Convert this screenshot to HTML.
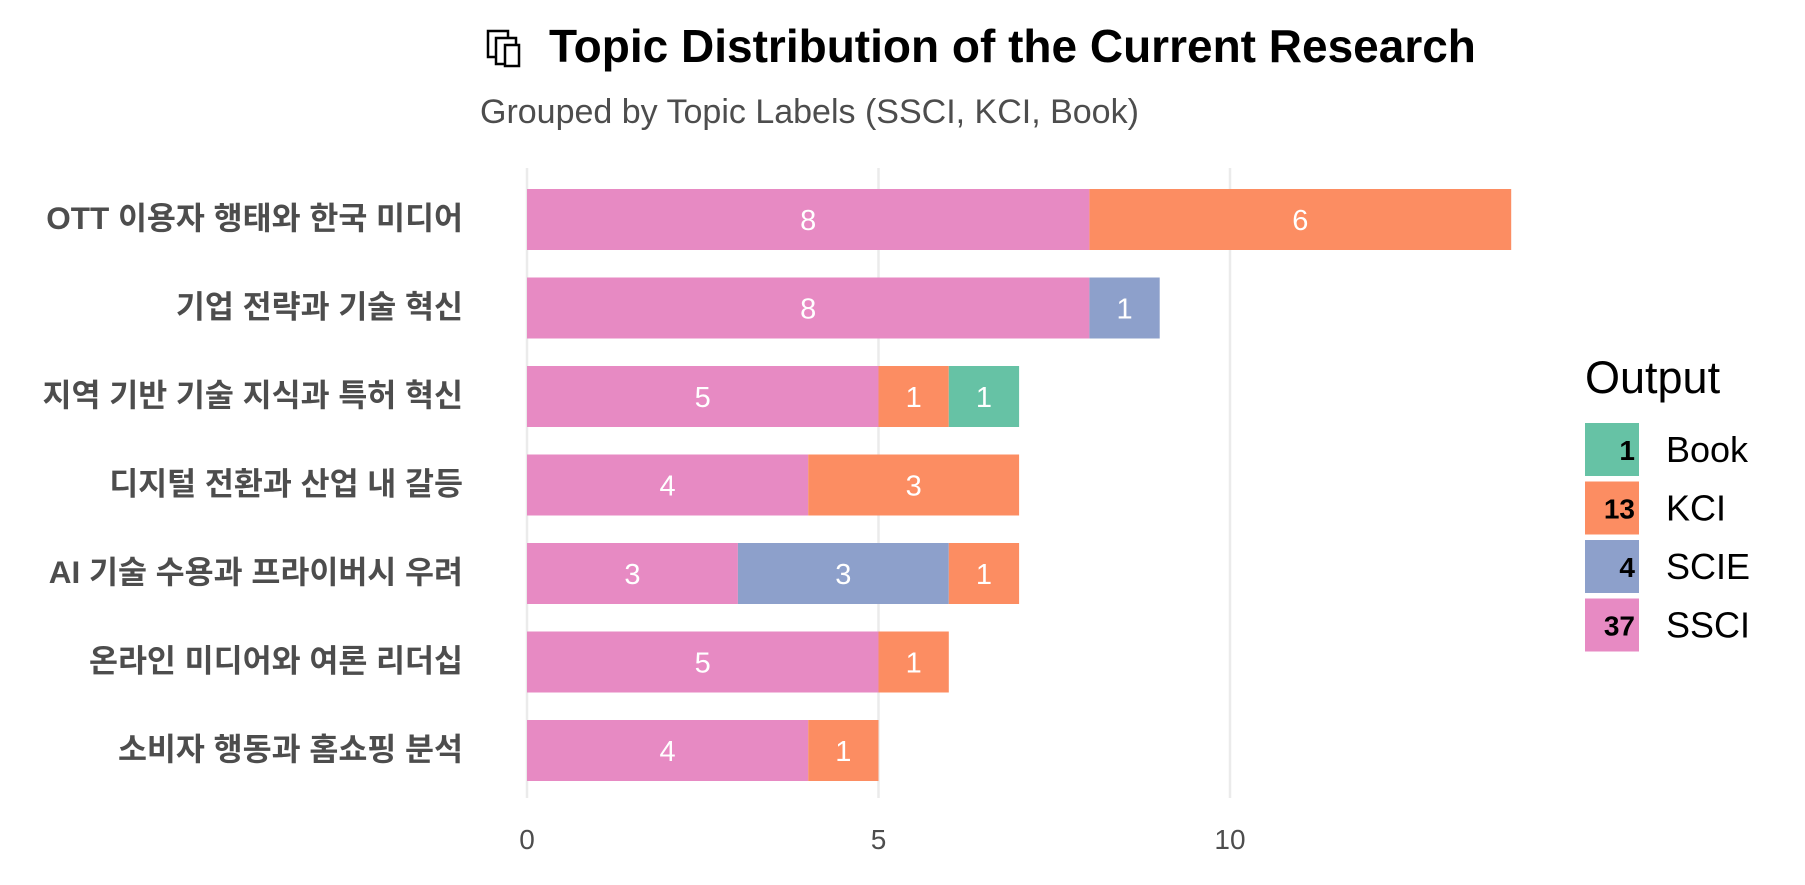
<!DOCTYPE html>
<html><head><meta charset="utf-8"><style>
body{margin:0;background:#fff;width:1805px;height:880px;overflow:hidden;font-family:"Liberation Sans","Noto Sans CJK KR",sans-serif}
</style></head><body>
<svg id="c" width="1805" height="880" xmlns="http://www.w3.org/2000/svg">
<g fill="#fff" stroke="#000" stroke-width="2.5">
<rect x="488" y="31" width="20" height="26"/><rect x="496" y="38" width="20" height="26"/><rect x="505" y="45" width="14" height="21"/>
</g>
<text x="549" y="62" font-size="46" font-weight="bold" fill="#000">Topic Distribution of the Current Research</text>
<text x="480" y="123" font-size="34" fill="#4d4d4d">Grouped by Topic Labels (SSCI, KCI, Book)</text>
<g id="grid"></g><g id="bars"></g><g id="ylab"></g><g id="xlab"></g><g id="legend"></g>
</svg>
<script>
const categories=["OTT 이용자 행태와 한국 미디어","기업 전략과 기술 혁신","지역 기반 기술 지식과 특허 혁신","디지털 전환과 산업 내 갈등","AI 기술 수용과 프라이버시 우려","온라인 미디어와 여론 리더십","소비자 행동과 홈쇼핑 분석"];
const seriesNames=["SSCI","SCIE","KCI","Book"];
const ssci=[8,8,5,4,3,5,4];
const scie=[0,1,0,0,3,0,0];
const kci=[6,0,1,3,1,1,1];
const book=[0,0,1,0,0,0,0];
const xTicks=[0,5,10];
const legendNames=["Book","KCI","SCIE","SSCI"];
const legendCounts=[1,13,4,37];
const colors={SSCI:"#E78AC3",SCIE:"#8DA0CB",KCI:"#FC8D62",Book:"#66C2A5"};
const NS="http://www.w3.org/2000/svg";
const x=v=>527+v*70.3;
const y=i=>219+i*88.5;
function mk(p,t,a,txt){const e=document.createElementNS(NS,t);for(const k in a)e.setAttribute(k,a[k]);if(txt!==undefined)e.textContent=txt;document.getElementById(p).appendChild(e);return e;}
xTicks.forEach(t=>{
 const g=mk("grid","line",{x1:x(t),x2:x(t),y1:168,y2:798,stroke:"#ebebeb","stroke-width":2.5});
 
 
 const l=mk("xlab","text",{x:x(t),y:849,"font-size":28,fill:"#4d4d4d","text-anchor":"middle"},t);
 
 
});
const data={SSCI:ssci,SCIE:scie,KCI:kci,Book:book};
categories.forEach((c,i)=>{
 let acc=0;
 seriesNames.forEach(s=>{
  const v=data[s][i];if(!v)return;
  const r=mk("bars","rect",{x:x(acc),y:y(i)-30,width:x(acc+v)-x(acc),height:61,fill:colors[s]});
  
  
  const t=mk("bars","text",{x:(x(acc)+x(acc+v))/2,y:y(i)+11,"font-size":29,fill:"#fff","text-anchor":"middle"},v);
  
  
  acc+=v;
 });
 const l=mk("ylab","text",{x:463,y:y(i)+10,"font-size":31.5,"font-weight":"bold",fill:"#4d4d4d","text-anchor":"end"},c);
 
 
});
const lt=mk("legend","text",{x:1585,y:393,"font-size":45,fill:"#000"},"Output");


legendNames.forEach((n,i)=>{
 const yy=423+i*58.5;
 const k=mk("legend","rect",{x:1585,y:yy,width:54,height:53,fill:colors[n]});
 
 
 const c=mk("legend","text",{x:1635,y:yy+37,"font-size":28,"font-weight":"bold",fill:"#000","text-anchor":"end"},legendCounts[i]);
 
 
 const t=mk("legend","text",{x:1666,y:yy+39,"font-size":36,fill:"#000"},n);
 
 
});
</script>
</body></html>
